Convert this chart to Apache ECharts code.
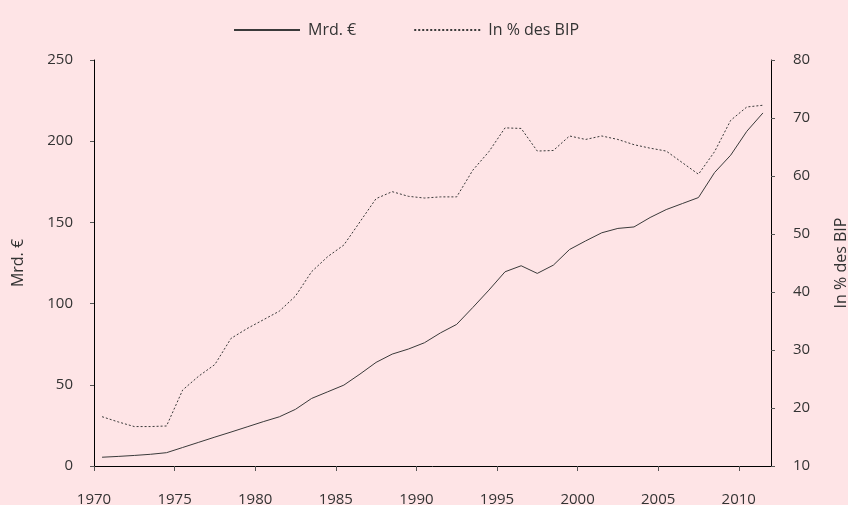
<!DOCTYPE html>
<html>
<head>
<meta charset="utf-8">
<script src="https://cdn.jsdelivr.net/npm/echarts@6/dist/echarts.min.js"></script>
<style>
  html, body { margin: 0; padding: 0; background: #fee4e6; }
  #chart { width: 848px; height: 505px; }
</style>
</head>
<body>
<div id="chart"></div>
<script>
var years = [];
for (var y = 1970; y <= 2011; y++) years.push(y);

// Schulden in Mrd. €
var mrd = [5.4, 5.9, 6.5, 7.2, 8.2, 11.4, 14.6, 17.8, 20.9, 24.1,
           27.3, 30.3, 34.9, 41.6, 45.7, 49.8, 56.6, 63.8, 68.9, 72.0,
           75.9, 82.0, 87.2, 97.6, 108.3, 119.6, 123.3, 118.6, 123.7, 133.3,
           138.6, 143.6, 146.3, 147.2, 153.0, 157.9, 161.6, 165.3, 180.7, 191.4,
           206.1, 217.4];

// Schulden in % des BIP
var pct = [18.5, 17.6, 16.8, 16.8, 16.9, 23.1, 25.5, 27.5, 32.0, 33.7,
           35.2, 36.7, 39.3, 43.5, 46.1, 48.1, 52.1, 56.1, 57.3, 56.5,
           56.2, 56.4, 56.4, 61.0, 64.2, 68.3, 68.2, 64.3, 64.4, 66.9,
           66.3, 66.9, 66.3, 65.4, 64.8, 64.3, 62.3, 60.3, 64.2, 69.6,
           71.9, 72.2];

var xTicks = [1970, 1975, 1980, 1985, 1990, 1995, 2000, 2005, 2010];

var font = '"Open Sans", "DejaVu Sans", sans-serif';
var txt = '#333';

// Jahreswerte sitzen in der Mitte des Jahres
function pairs(vals) {
    return years.map(function (yr, i) { return [yr + 0.5, vals[i]]; });
}

var myChart = echarts.init(document.getElementById('chart'));

var option = {
    backgroundColor: '#fee4e6',
    animation: false,
    textStyle: { fontFamily: font },
    legend: {
        left: 228,
        top: 17,
        itemWidth: 66,
        itemHeight: 14,
        itemGap: 57,
        itemStyle: { opacity: 0 },
        textStyle: { color: txt, fontSize: 16, fontFamily: font, padding: [0, 0, 0, 3] },
        data: ['Mrd. €', 'In % des BIP']
    },
    grid: { left: 94, right: 77, top: 60, bottom: 39, outerBoundsMode: 'none', containLabel: false },
    xAxis: {
        type: 'value',
        min: 1970,
        max: 2012,
        interval: 5,
        splitLine: { show: false },
        axisLine: { lineStyle: { color: '#000', width: 1 } },
        axisTick: { length: 5, lineStyle: { color: '#555' }, customValues: xTicks },
        axisLabel: {
            color: txt, fontSize: 15, margin: 26,
            customValues: xTicks,
            formatter: function (v) { return String(v); }
        }
    },
    yAxis: [{
        type: 'value',
        name: 'Mrd. €',
        nameLocation: 'middle',
        nameGap: 68,
        nameTextStyle: { color: txt, fontSize: 16 },
        min: 0,
        max: 250,
        interval: 50,
        splitLine: { show: false },
        axisLine: { show: true, lineStyle: { color: '#000', width: 1 } },
        axisTick: { show: true, length: 4, lineStyle: { color: '#555' } },
        axisLabel: { color: txt, fontSize: 15, margin: 21 }
    }, {
        type: 'value',
        name: 'In % des BIP',
        nameLocation: 'middle',
        nameGap: 62,
        nameRotate: 90,
        nameTextStyle: { color: txt, fontSize: 16 },
        min: 10,
        max: 80,
        interval: 10,
        position: 'right',
        splitLine: { show: false },
        axisLine: { show: true, lineStyle: { color: '#000', width: 1 } },
        axisTick: { show: true, length: 4, lineStyle: { color: '#555' } },
        axisLabel: { color: txt, fontSize: 15, margin: 22 }
    }],
    series: [{
        name: 'Mrd. €',
        type: 'line',
        yAxisIndex: 0,
        symbol: 'none',
        lineStyle: { color: '#3a3a3a', width: 1 },
        itemStyle: { color: '#3a3a3a' },
        data: pairs(mrd)
    }, {
        name: 'In % des BIP',
        type: 'line',
        yAxisIndex: 1,
        symbol: 'none',
        lineStyle: { color: '#3a3a3a', width: 1, type: [2, 2] },
        itemStyle: { color: '#3a3a3a' },
        data: pairs(pct)
    }]
};

myChart.setOption(option);
</script>
</body>
</html>
